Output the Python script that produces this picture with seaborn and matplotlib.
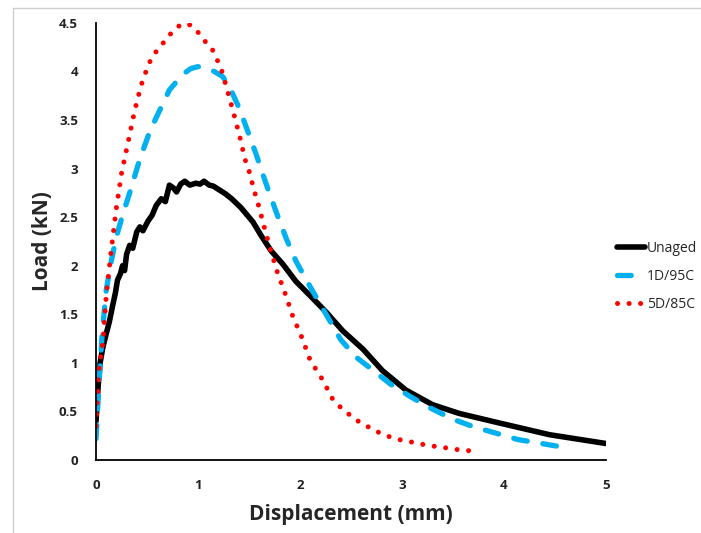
import matplotlib
matplotlib.use("Agg")
import matplotlib.pyplot as plt
from matplotlib.lines import Line2D
import seaborn as sns
import pandas as pd

# values
unaged_x = [0.0, 0.02, 0.04, 0.067, 0.10, 0.13, 0.165, 0.19, 0.21, 0.24, 0.26, 0.28, 0.30,
            0.33, 0.36, 0.40, 0.43, 0.46, 0.51, 0.55, 0.59, 0.64, 0.68, 0.72, 0.76, 0.79,
            0.83, 0.87, 0.92, 0.98, 1.02, 1.06, 1.11, 1.15, 1.21, 1.27, 1.33, 1.42, 1.54,
            1.62, 1.72, 1.83, 1.96, 2.13, 2.26, 2.42, 2.62, 2.81, 3.04, 3.30, 3.56, 3.96,
            4.45, 5.0]
unaged_y = [0.4, 0.75, 1.0, 1.16, 1.3, 1.42, 1.6, 1.72, 1.85, 1.92, 2.0, 1.95, 2.12,
            2.21, 2.18, 2.35, 2.40, 2.36, 2.46, 2.52, 2.62, 2.69, 2.66, 2.83, 2.80, 2.76,
            2.84, 2.87, 2.83, 2.85, 2.84, 2.87, 2.83, 2.82, 2.78, 2.74, 2.69, 2.60, 2.45,
            2.31, 2.15, 2.02, 1.84, 1.66, 1.52, 1.33, 1.14, 0.92, 0.72, 0.57, 0.48, 0.38,
            0.26, 0.17]

d1_x = [0.0, 0.03, 0.06, 0.10, 0.15, 0.20, 0.26, 0.33, 0.43, 0.53, 0.62, 0.72, 0.85,
        0.93, 1.0, 1.08, 1.16, 1.24, 1.31, 1.41, 1.49, 1.57, 1.64, 1.71, 1.79, 1.87,
        1.96, 2.07, 2.18, 2.29, 2.40, 2.55, 2.71, 2.89, 3.08, 3.28, 3.50, 3.71, 3.91,
        4.14, 4.37, 4.59, 4.66]
d1_y = [0.22, 0.8, 1.3, 1.75, 2.05, 2.3, 2.52, 2.75, 3.10, 3.39, 3.59, 3.81, 3.97,
        4.03, 4.05, 4.03, 4.0, 3.95, 3.84, 3.61, 3.38, 3.15, 2.93, 2.72, 2.49, 2.27,
        2.05, 1.84, 1.64, 1.44, 1.24, 1.06, 0.93, 0.78, 0.655, 0.535, 0.42, 0.34, 0.28,
        0.21, 0.17, 0.13, 0.12]

d5_x = [0.0, 0.01, 0.03, 0.067, 0.10, 0.15, 0.20, 0.25, 0.31, 0.38, 0.44, 0.51, 0.56,
        0.63, 0.69, 0.77, 0.84, 0.92, 0.99, 1.05, 1.13, 1.18, 1.23, 1.29, 1.35, 1.41,
        1.46, 1.50, 1.55, 1.60, 1.65, 1.71, 1.78, 1.86, 1.93, 2.02, 2.10, 2.22, 2.32,
        2.41, 2.50, 2.59, 2.69, 2.79, 2.89, 3.01, 3.12, 3.23, 3.34, 3.46, 3.57, 3.69]
d5_y = [0.35, 0.6, 0.95, 1.21, 1.69, 2.17, 2.6, 2.95, 3.25, 3.60, 3.85, 4.06, 4.17,
        4.25, 4.34, 4.43, 4.49, 4.48, 4.42, 4.33, 4.25, 4.14, 4.02, 3.80, 3.57, 3.33,
        3.10, 2.98, 2.78, 2.60, 2.40, 2.17, 1.93, 1.70, 1.48, 1.26, 1.03, 0.83, 0.63,
        0.53, 0.455, 0.386, 0.33, 0.276, 0.235, 0.20, 0.18, 0.155, 0.138, 0.121, 0.103,
        0.093]

labels = ["Unaged", "1D/95C", "5D/85C"]
colors = ["black", "#00B0F0", "#FF0000"]
x_ticks = [0, 1, 2, 3, 4, 5]
y_ticks = [0, 0.5, 1, 1.5, 2, 2.5, 3, 3.5, 4, 4.5]
y_tick_labels = ["0", "0.5", "1", "1.5", "2", "2.5", "3", "3.5", "4", "4.5"]

sns.set_style("white")
plt.rcParams["font.family"] = ["Open Sans", "DejaVu Sans"]

fig = plt.figure(figsize=(7.01, 5.33), dpi=100)
ax = fig.add_axes([0.137, 0.137, 0.727, 0.82])

df_u = pd.DataFrame({"x": unaged_x, "y": unaged_y})
df_1 = pd.DataFrame({"x": d1_x, "y": d1_y})
df_5 = pd.DataFrame({"x": d5_x, "y": d5_y})

sns.lineplot(data=df_u, x="x", y="y", color=colors[0], lw=4.0, label=labels[0], ax=ax)
sns.lineplot(data=df_1, x="x", y="y", color=colors[1], lw=3.8, label=labels[1], ax=ax)
sns.lineplot(data=df_5, x="x", y="y", color=colors[2], lw=3.6, label=labels[2], ax=ax)

lines = ax.get_lines()
lines[0].set_solid_capstyle("round")
lines[0].set_solid_joinstyle("round")
lines[1].set_dashes([2.6, 3.0])
lines[1].set_dash_capstyle("round")
lines[2].set_dashes([0.01, 2.3])
lines[2].set_dash_capstyle("round")

ax.set_xlim(0, 5)
ax.set_ylim(0, 4.5)
ax.set_xticks(x_ticks)
ax.set_yticks(y_ticks)
ax.set_yticklabels(y_tick_labels)
ax.tick_params(axis="both", length=0, labelsize=9.5, colors="#222222")
ax.tick_params(axis="x", pad=14)
ax.tick_params(axis="y", pad=13)
for lab in ax.get_xticklabels() + ax.get_yticklabels():
    lab.set_fontweight("bold")

sns.despine(ax=ax)
for sp in ["left", "bottom"]:
    ax.spines[sp].set_color("black")
    ax.spines[sp].set_linewidth(1.3)

ax.set_xlabel("Displacement (mm)", fontsize=15, fontweight="bold", labelpad=8)
ax.set_ylabel("Load (kN)", fontsize=15, fontweight="bold", labelpad=4)

leg = ax.legend(loc="center left", bbox_to_anchor=(1.012, 0.42), frameon=False,
                fontsize=10, handlelength=2.0, handletextpad=0.15, labelspacing=0.95,
                borderaxespad=0)

# light grey frame of the chart area
fig.add_artist(Line2D([13 / 701, 1.0], [1 - 8 / 533, 1 - 8 / 533], color="#cfcfcf", lw=1))
fig.add_artist(Line2D([13 / 701, 13 / 701], [0.0, 1 - 8 / 533], color="#cfcfcf", lw=1))

fig.savefig("out.png", dpi=100)
